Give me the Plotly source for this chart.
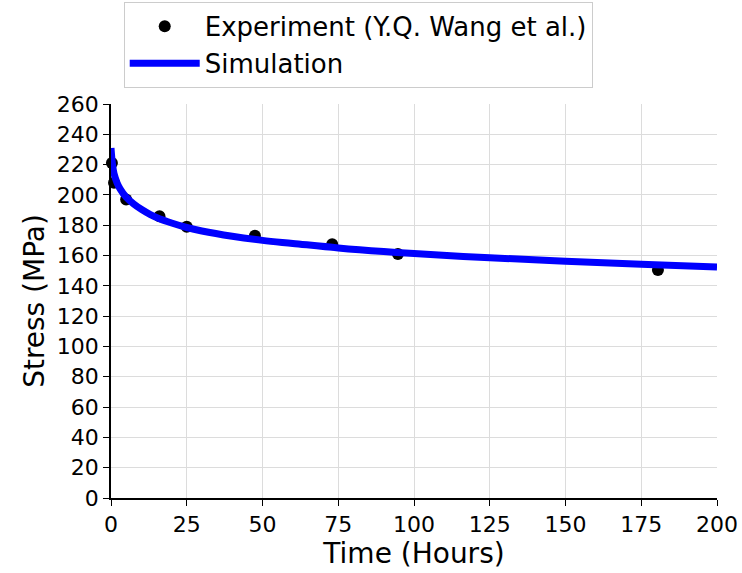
import plotly.graph_objects as go

exp_time = [0.3, 1.0, 5, 16, 25, 47.5, 73, 94.7, 180.5]
exp_stress = [221, 208, 197, 186, 179, 173, 167.5, 161, 150.5]

sim_time = [0, 0.5, 1, 2, 3, 5, 7.5, 10, 13, 16, 20, 25, 30, 40, 50, 60, 75, 90, 100, 125, 150, 175, 200]
sim_stress = [231, 220, 214, 208, 204, 198.5, 194, 190.5, 187, 184.3, 181.5, 178.5, 176.2, 172.7, 170, 168, 165, 162.6, 161.3, 158.5, 156.3, 154.3, 152.5]

font = "DejaVu Sans, Verdana, sans-serif"

fig = go.Figure()
fig.add_trace(go.Scatter(
    x=exp_time, y=exp_stress, mode="markers", name="Experiment (Y.Q. Wang et al.)",
    marker=dict(color="black", size=12), cliponaxis=False))
fig.add_trace(go.Scatter(
    x=sim_time, y=sim_stress, mode="lines", name="Simulation",
    line=dict(color="#0000ff", width=7, shape="spline")))

fig.update_layout(
    width=742, height=573,
    margin=dict(l=111, r=25, t=104, b=75, autoexpand=False),
    paper_bgcolor="white", plot_bgcolor="white",
    font=dict(family=font, size=22, color="black"),
    showlegend=True,
    legend=dict(x=0.021, y=1.259, xanchor="left", yanchor="top",
                bgcolor="white", bordercolor="#cccccc", borderwidth=1,
                font=dict(size=26), tracegroupgap=0, itemwidth=70),
    xaxis=dict(range=[0, 200], tickvals=[0, 25, 50, 75, 100, 125, 150, 175, 200],
               showline=True, linecolor="black", linewidth=1.5,
               ticks="outside", ticklen=6, tickcolor="black", automargin=False,
               showgrid=True, gridcolor="#dcdcdc", gridwidth=1, zeroline=False,
               title=dict(text="Time (Hours)", font=dict(size=28), standoff=2)),
    yaxis=dict(range=[0, 260], tickvals=list(range(0, 261, 20)),
               showline=True, linecolor="black", linewidth=1.5,
               ticks="outside", ticklen=6, tickcolor="black", automargin=False,
               showgrid=True, gridcolor="#dcdcdc", gridwidth=1, zeroline=False,
               title=dict(text="Stress (MPa)", font=dict(size=28), standoff=4)),
)

fig.write_html("out.html")
